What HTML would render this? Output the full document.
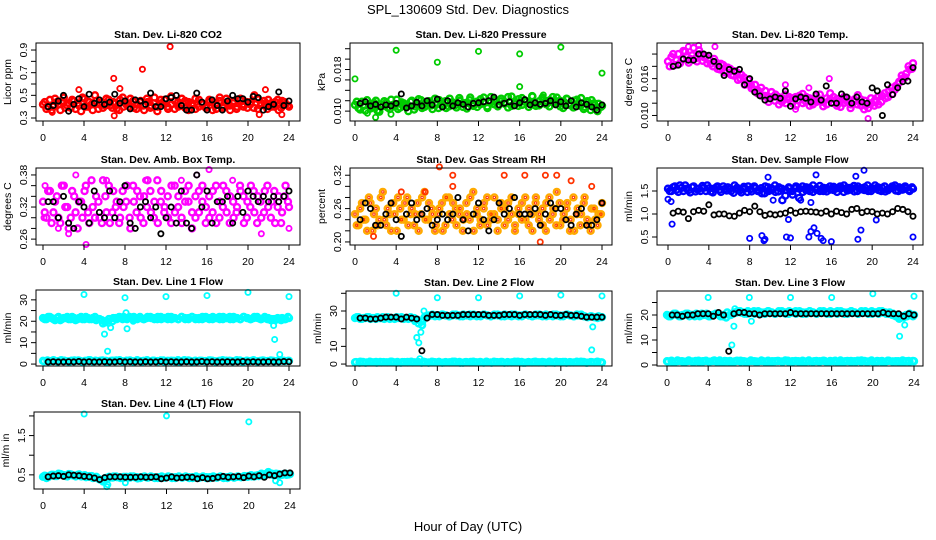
<!DOCTYPE html>
<html><head><meta charset="utf-8">
<style>
html,body{margin:0;padding:0;background:#fff;}
svg{display:block;font-family:"Liberation Sans",Arial,sans-serif;}
</style></head>
<body>
<svg id="chart" width="936" height="540" viewBox="0 0 936 540" xmlns="http://www.w3.org/2000/svg">
<rect x="0" y="0" width="936" height="540" fill="#fff"/>
<text x="468" y="14" text-anchor="middle" font-size="13">SPL_130609  Std. Dev. Diagnostics</text>
<text x="468" y="531" text-anchor="middle" font-size="13">Hour of Day (UTC)</text>
</svg>
<script>
// ---- data ----
const xTicks = [0,4,8,12,16,20,24];

const co2Red = [0.42,0.38,0.46,0.40,0.44,0.37,0.48,0.41,0.39,0.45,0.43,0.36,0.47,0.40,0.42,0.50,0.38,0.44,0.41,0.46,0.39,0.43,0.37,0.48,0.42,0.40,0.45,0.38,0.44,0.41,0.47,0.39,0.43,0.36,0.46,0.42,0.40,0.49,0.38,0.44,0.41,0.45,0.37,0.43,0.47,0.40,0.42,0.39,0.46,0.44,0.38,0.48,0.41,0.43,0.37,0.45,0.40,0.47,0.42,0.39,0.44,0.50,0.38,0.43,0.41,0.46,0.40,0.44,0.37,0.45,0.42,0.40];
const co2Red2 = [0.44,0.40,0.37,0.47,0.42,0.45,0.39,0.43,0.46,0.38,0.41,0.48,0.40,0.44,0.37,0.45,0.42,0.39,0.47,0.41,0.44,0.38,0.46,0.40,0.43,0.47,0.39,0.42,0.45,0.37,0.44,0.41,0.48,0.40,0.43,0.46,0.38,0.42,0.45,0.40,0.47,0.39,0.44,0.41,0.38,0.46,0.43,0.40,0.44,0.37,0.42,0.45,0.39,0.47,0.41,0.43,0.38,0.46,0.40,0.44,0.42,0.39,0.47,0.41,0.45,0.38,0.43,0.40,0.46,0.39,0.44,0.41];
const co2Out = [[6.9,0.65],[6.95,0.32],[7.5,0.56],[9.7,0.73],[12.4,0.93],[3.5,0.55],[21.7,0.55],[23.3,0.33],[21.1,0.33],[0.9,0.35]];
const co2Blk = [0.40,0.41,0.45,0.50,0.36,0.42,0.47,0.40,0.51,0.43,0.46,0.42,0.44,0.51,0.43,0.45,0.38,0.46,0.45,0.42,0.52,0.40,0.40,0.47,0.48,0.50,0.41,0.37,0.37,0.52,0.44,0.37,0.46,0.41,0.37,0.45,0.50,0.47,0.47,0.44,0.49,0.48,0.37,0.40,0.42,0.53,0.41,0.45];

const presGreen = [0.0112,0.0106,0.0118,0.0101,0.0114,0.0108,0.0120,0.0099,0.0110,0.0116,0.0104,0.0112,0.0122,0.0107,0.0115,0.0110,0.0118,0.0103,0.0113,0.0121,0.0108,0.0116,0.0111,0.0124,0.0106,0.0114,0.0119,0.0109,0.0117,0.0112,0.0125,0.0108,0.0116,0.0121,0.0110,0.0118,0.0113,0.0126,0.0109,0.0117,0.0122,0.0111,0.0119,0.0114,0.0127,0.0110,0.0118,0.0123,0.0112,0.0120,0.0115,0.0128,0.0110,0.0119,0.0124,0.0113,0.0121,0.0116,0.0126,0.0109,0.0118,0.0123,0.0111,0.0120,0.0114,0.0125,0.0108,0.0117,0.0121,0.0106,0.0114,0.0110];
const presGreen2 = [0.0118,0.0103,0.0110,0.0121,0.0105,0.0116,0.0101,0.0113,0.0119,0.0107,0.0122,0.0109,0.0104,0.0117,0.0112,0.0100,0.0120,0.0109,0.0123,0.0106,0.0115,0.0119,0.0104,0.0112,0.0121,0.0110,0.0106,0.0124,0.0113,0.0107,0.0120,0.0115,0.0105,0.0126,0.0112,0.0108,0.0123,0.0116,0.0106,0.0127,0.0113,0.0109,0.0124,0.0117,0.0107,0.0128,0.0114,0.0110,0.0125,0.0118,0.0108,0.0129,0.0115,0.0111,0.0126,0.0119,0.0109,0.0127,0.0114,0.0120,0.0106,0.0124,0.0112,0.0107,0.0122,0.0110,0.0104,0.0119,0.0102,0.0115,0.0100,0.0108];
const presOut = [[0,0.0162],[4,0.0217],[8,0.0194],[12,0.0215],[16,0.0210],[20,0.0223],[24,0.0173],[16,0.0147],[2,0.0088],[18.3,0.0131],[1.2,0.0096],[3.5,0.0094]];
const presBlk = [0.0115,0.0118,0.0110,0.0113,0.0108,0.0112,0.0110,0.0115,0.0133,0.0106,0.0110,0.0117,0.0110,0.0120,0.0112,0.0123,0.0108,0.0120,0.0110,0.0116,0.0113,0.0108,0.0115,0.0116,0.0118,0.0120,0.0127,0.0112,0.0115,0.0118,0.0110,0.0116,0.0122,0.0112,0.0116,0.0113,0.0115,0.0120,0.0112,0.0118,0.0110,0.0120,0.0108,0.0116,0.0113,0.0108,0.0102,0.0112];

const tempMag = [0.0188,0.0195,0.0182,0.0200,0.0192,0.0204,0.0186,0.0198,0.0193,0.0206,0.0189,0.0197,0.0190,0.0180,0.0186,0.0175,0.0182,0.0170,0.0176,0.0165,0.0170,0.0160,0.0162,0.0152,0.0150,0.0142,0.0136,0.0145,0.0132,0.0128,0.0138,0.0124,0.0130,0.0122,0.0134,0.0126,0.0120,0.0130,0.0125,0.0135,0.0122,0.0128,0.0118,0.0132,0.0124,0.0115,0.0128,0.0136,0.0120,0.0127,0.0114,0.0130,0.0122,0.0118,0.0126,0.0133,0.0116,0.0124,0.0112,0.0120,0.0125,0.0118,0.0132,0.0128,0.0140,0.0135,0.0148,0.0155,0.0160,0.0168,0.0175,0.0185];
const tempMag2 = [0.0180,0.0200,0.0190,0.0185,0.0205,0.0196,0.0192,0.0210,0.0188,0.0200,0.0195,0.0185,0.0184,0.0192,0.0176,0.0184,0.0170,0.0178,0.0166,0.0172,0.0158,0.0166,0.0150,0.0158,0.0144,0.0150,0.0140,0.0132,0.0140,0.0122,0.0130,0.0134,0.0118,0.0128,0.0120,0.0130,0.0128,0.0116,0.0132,0.0120,0.0130,0.0116,0.0126,0.0122,0.0134,0.0122,0.0118,0.0126,0.0130,0.0116,0.0124,0.0120,0.0128,0.0112,0.0122,0.0118,0.0126,0.0110,0.0118,0.0128,0.0116,0.0130,0.0122,0.0136,0.0130,0.0145,0.0142,0.0152,0.0165,0.0162,0.0180,0.0176];
const tempOut = [[19.6,0.0095],[11.5,0.0150],[13.8,0.0145],[15.8,0.0160],[4.6,0.0212],[2.0,0.0212],[12.5,0.0110],[3.0,0.0214]];
const tempBlk = [0.0180,0.0182,0.0192,0.0190,0.0190,0.0200,0.0200,0.0198,0.0188,0.0180,0.0165,0.0175,0.0172,0.0175,0.0150,0.0160,0.0138,0.0132,0.0125,0.0127,0.0130,0.0128,0.0140,0.0115,0.0127,0.0130,0.0128,0.0122,0.0135,0.0125,0.0148,0.0120,0.0120,0.0135,0.0130,0.0120,0.0130,0.0122,0.0120,0.0145,0.0140,0.0100,0.0150,0.0134,0.0145,0.0155,0.0156,0.0178];

const ambMag = [0.33,0.30,0.35,0.31,0.34,0.29,0.36,0.32,0.30,0.34,0.28,0.33,0.35,0.31,0.37,0.30,0.33,0.29,0.34,0.36,0.31,0.32,0.29,0.35,0.33,0.30,0.36,0.31,0.34,0.29,0.32,0.35,0.30,0.37,0.33,0.31,0.34,0.29,0.36,0.32,0.30,0.35,0.33,0.28,0.34,0.31,0.36,0.32,0.30,0.35,0.29,0.33,0.36,0.31,0.34,0.30,0.32,0.35,0.29,0.33,0.36,0.31,0.34,0.30,0.35,0.32,0.33,0.29,0.34,0.31,0.36,0.32];
const ambMag2 = [0.31,0.35,0.29,0.33,0.30,0.36,0.32,0.28,0.35,0.31,0.33,0.30,0.36,0.29,0.32,0.34,0.30,0.37,0.31,0.29,0.35,0.33,0.30,0.32,0.36,0.28,0.33,0.35,0.30,0.34,0.37,0.31,0.33,0.29,0.35,0.32,0.30,0.36,0.31,0.34,0.29,0.33,0.36,0.31,0.30,0.35,0.33,0.29,0.34,0.31,0.36,0.30,0.32,0.35,0.29,0.33,0.31,0.36,0.34,0.30,0.32,0.35,0.29,0.33,0.31,0.36,0.30,0.35,0.32,0.29,0.34,0.33];
const ambOut = [[0.2,0.36],[2.5,0.27],[4.2,0.25],[15,0.38],[16.2,0.39],[10,0.37],[21.3,0.27],[24,0.28],[1.5,0.28],[13.5,0.37],[6.2,0.37],[0.1,0.30],[3.2,0.38],[18.5,0.37]];
const ambBlk = [0.33,0.33,0.30,0.34,0.29,0.28,0.33,0.32,0.29,0.35,0.31,0.30,0.35,0.30,0.33,0.36,0.29,0.28,0.32,0.33,0.30,0.32,0.27,0.30,0.32,0.29,0.35,0.29,0.28,0.38,0.32,0.35,0.29,0.33,0.33,0.34,0.29,0.34,0.31,0.35,0.34,0.33,0.34,0.33,0.34,0.33,0.34,0.35];

const rhOrange = [0.25,0.23,0.27,0.24,0.28,0.22,0.26,0.24,0.29,0.23,0.25,0.27,0.22,0.26,0.24,0.28,0.25,0.23,0.27,0.25,0.29,0.24,0.26,0.22,0.25,0.27,0.23,0.28,0.24,0.26,0.25,0.22,0.27,0.24,0.29,0.25,0.23,0.26,0.28,0.24,0.25,0.22,0.27,0.26,0.24,0.28,0.23,0.25,0.27,0.24,0.26,0.22,0.28,0.25,0.23,0.27,0.24,0.26,0.29,0.23,0.25,0.27,0.24,0.22,0.26,0.25,0.28,0.23,0.26,0.24,0.25,0.27];
const rhOrange2 = [0.23,0.26,0.24,0.22,0.27,0.25,0.23,0.28,0.24,0.26,0.22,0.25,0.28,0.24,0.27,0.23,0.26,0.25,0.22,0.28,0.24,0.27,0.25,0.23,0.26,0.22,0.28,0.25,0.27,0.23,0.26,0.24,0.25,0.28,0.22,0.26,0.24,0.27,0.23,0.25,0.28,0.24,0.26,0.23,0.27,0.25,0.22,0.26,0.24,0.28,0.23,0.25,0.27,0.24,0.26,0.22,0.28,0.25,0.23,0.27,0.24,0.26,0.22,0.28,0.25,0.23,0.27,0.24,0.22,0.26,0.23,0.25];
const rhOut = [[8.2,0.335],[9.5,0.32],[9.5,0.30],[14.5,0.32],[16.5,0.32],[18.5,0.32],[19.6,0.32],[21,0.31],[23,0.30],[18,0.20],[4.5,0.29],[1.8,0.21],[6.8,0.29]];
const rhBlk = [0.24,0.27,0.26,0.23,0.23,0.25,0.27,0.24,0.21,0.25,0.27,0.24,0.25,0.26,0.23,0.24,0.25,0.24,0.25,0.28,0.24,0.22,0.25,0.27,0.24,0.22,0.24,0.27,0.25,0.26,0.28,0.25,0.25,0.25,0.26,0.23,0.25,0.27,0.26,0.26,0.24,0.23,0.25,0.26,0.23,0.23,0.24,0.27];

const flowBlue = [1.55,1.50,1.60,1.48,1.57,1.62,1.52,1.58,1.49,1.55,1.61,1.50,1.56,1.47,1.58,1.53,1.60,1.51,1.55,1.46,1.57,1.52,1.59,1.48,1.54,1.60,1.50,1.56,1.45,1.58,1.52,1.62,1.49,1.55,1.40,1.58,1.50,1.56,1.35,1.60,1.52,1.57,1.48,1.55,1.61,1.50,1.56,1.53,1.59,1.48,1.55,1.62,1.51,1.57,1.49,1.60,1.54,1.58,1.50,1.56,1.62,1.52,1.57,1.49,1.55,1.60,1.51,1.58,1.53,1.56,1.50,1.55];
const flowBlue2 = [1.50,1.58,1.53,1.62,1.50,1.55,1.47,1.60,1.54,1.50,1.57,1.62,1.49,1.55,1.60,1.48,1.54,1.58,1.50,1.62,1.53,1.47,1.55,1.60,1.49,1.56,1.52,1.45,1.60,1.50,1.55,1.48,1.58,1.30,1.52,1.56,1.42,1.60,1.55,1.48,1.58,1.50,1.62,1.53,1.50,1.57,1.49,1.60,1.52,1.56,1.60,1.48,1.57,1.53,1.61,1.50,1.56,1.52,1.62,1.50,1.55,1.58,1.50,1.60,1.52,1.57,1.62,1.50,1.55,1.60,1.52,1.58];
const flowOut = [[0,1.32],[0.3,1.27],[0.4,0.78],[8,0.47],[9.2,0.53],[9.4,0.42],[9.5,0.45],[11.6,0.50],[12,0.48],[13.8,0.5],[14,0.62],[14.3,0.7],[14.6,0.58],[15,0.47],[15.2,0.42],[16,0.4],[18.6,0.45],[18.9,0.65],[24,0.5],[19.2,1.95],[18.4,1.82],[14.5,1.85],[9.8,1.8],[14,1.25],[20.4,0.87],[11.8,0.88],[10.3,1.3],[13,1.3]];
const flowBlk = [1.02,1.06,1.04,0.90,1.05,1.08,1.06,1.20,0.98,1.00,1.00,0.96,0.95,1.02,1.08,1.05,1.17,1.05,0.97,1.00,0.98,1.00,1.02,1.08,1.02,1.05,1.06,1.05,1.04,1.02,1.06,1.00,1.06,1.03,1.00,1.10,1.12,1.03,1.06,1.05,1.00,1.02,1.00,1.05,1.12,1.10,1.05,0.95];

const l1Up = [21.5,21,22,21,21.5,20.5,21.5,22,21,21.5,21,22,21,21.5,21,22,21,20.5,19.5,21,20,21.5,22,21,21.5,22,21,21.5,22,21,21.5,22,21.5,21,22,21.5,21,22,21.5,21,22,21.5,21,22,21.5,21,22,21.5,21,22,21.5,21,22,21.5,21,22,21.5,21,22,21.5,21,22,21.5,21,22,21.5,21,20.5,21,21.5,21,21.5];
const l1Up2 = [21,22,21.5,20.5,22,21,21.5,21,22,20.5,21.5,21,22,21,21.5,20.5,21,19,20,21,21.5,21,21.5,22,21,21.5,22,21,21.5,21,22,21.5,21,22,21,21.5,22,21,21.5,21,22,21,21.5,22,21,21.5,21,22,21.5,21,21.5,22,21,21.5,22,21,21.5,21,22,21.5,21,21.5,22,21,21.5,21,20.5,21,21.5,20.5,21,22];
const l1Low = [1.5,1.2,1.8,1.4,1.6,1.1,1.7,1.5,1.3,1.8,1.4,1.6,1.2,1.5,1.7,1.3,1.6,1.4,1.8,1.2,1.5,1.6,1.3,1.7,1.4,1.5,1.2,1.8,1.5,1.3,1.6,1.4,1.7,1.2,1.5,1.6,1.4,1.8,1.3,1.5,1.6,1.2,1.7,1.4,1.5,1.3,1.6,1.5];
const l1Low2 = [1.3,1.7,1.4,1.6,1.2,1.8,1.5,1.3,1.6,1.4,1.7,1.2,1.5,1.8,1.3,1.6,1.4,1.7,1.5,1.2,1.6,1.4,1.8,1.3,1.5,1.7,1.2,1.6,1.4,1.5,1.8,1.3,1.6,1.4,1.7,1.2,1.5,1.6,1.3,1.8,1.4,1.5,1.7,1.2,1.6,1.4,1.5,1.3,1.7,1.6,1.2,1.5,1.8,1.4,1.6,1.3,1.5,1.7,1.2,1.6,1.4,1.8,1.3,1.5,1.6,1.4,1.7,1.3,1.5,1.6,1.4,1.5];
const l1Out = [[4,32.5],[8,31],[12,31.5],[16,32],[20,33.5],[24,31.5],[6,14],[6.3,6],[6.4,19],[6.6,17],[8.1,24],[8.2,16.5],[22.5,18],[22.6,11.5],[23.1,4.5],[8.8,20]];
const l1Blk = [1.0,1.1,1.0,1.0,1.1,1.0,1.2,1.0,1.1,1.0,1.0,1.1,1.0,1.0,1.2,1.0,1.1,1.0,1.0,1.1,1.0,1.0,1.2,1.0,1.1,1.0,1.0,1.1,1.0,1.0,1.2,1.0,1.1,1.0,1.0,1.1,1.0,1.0,1.2,1.0,1.1,1.0,1.0,1.1,1.0,1.0,1.2,1.1];

const l2Up = [26,26.5,25.5,26,26.5,26,25.5,26,26.5,26,25.5,26,26.5,26,25.5,26,26.5,26,25,24,26.5,27,27.5,27,27.5,28,27.5,27,27.5,28,27.5,27,27.5,28,27.5,27,27.5,28,27.5,27,27.5,28,27.5,27,27.5,28,27.5,27,27.5,28,27.5,27,27.5,28,27.5,27,27.5,28,27.5,27,27.5,28,27.5,27,27.5,28,27,26.5,27,26.5,27,26.5];
const l2Up2 = [26.5,25.5,26,26.5,25.5,26,26.5,26,25.5,26.5,26,25.5,26,26.5,26,25.5,26,25,23,22,27,27.5,28,27.5,27,28,27.5,27,28,27.5,27,28,27.5,27,28,27.5,27,28,27.5,27,28,27.5,27,28,27.5,27,28,27.5,27,28,27.5,27,28,27.5,27,28,27.5,27,28,27.5,27,28,27.5,27,28,27.5,27,26.5,27,26.5,26,26.5];
const l2Low = [1,1.3,0.8,1.1,1.2,0.9,1.0,1.3,0.8,1.1,1.2,0.9,1.0,1.3,0.8,1.1,1.2,0.9,1.0,1.3,0.8,1.1,1.2,0.9,1.0,1.3,0.8,1.1,1.2,0.9,1.0,1.3,0.8,1.1,1.2,0.9,1.0,1.3,0.8,1.1,1.2,0.9,1.0,1.3,0.8,1.1,1.2,0.9];
const l2Low2 = [1.1,0.8,1.2,0.9,1.3,1.0,0.8,1.2,1.1,0.9,1.3,1.0,1.2,0.8,1.1,0.9,1.3,1.0,1.2,0.8,1.1,0.9,1.3,1.0,1.2,0.8,1.1,0.9,1.3,1.0,1.2,0.8,1.1,0.9,1.3,1.0,1.2,0.8,1.1,0.9,1.3,1.0,1.2,0.8,1.1,0.9,1.3,1.0,1.2,0.8,1.1,0.9,1.3,1.0,1.2,0.8,1.1,0.9,1.3,1.0,1.2,0.8,1.1,0.9,1.3,1.0,1.2,0.8,1.1,0.9,1.3,1.0];
const l2Out = [[4,40],[8,37.5],[12,37.5],[16,38.5],[20,39],[24,38.5],[5.8,24],[6,15],[6.2,12],[6.4,18],[6.5,22],[6.6,24],[6.7,30],[23.1,21],[23,8],[6.3,3]];
const l2Blk = [26,26,25.5,25.5,26,26.5,26.5,26.5,25.5,26.5,26,25.5,7.5,26,28,28,27.5,27.5,27.5,27.5,28,28,28,28,28,27.5,27.5,27.5,28,28,28,27.5,28,28,28,28,27.5,28,27.5,27.5,28,27.5,27.5,27,26.5,26.5,26.5,26.5];

const l3Up = [20,19.5,20.5,20,19.5,20,20.5,20,19.5,20,20.5,20,19.5,20,20.5,20,19.5,19,20,20.5,21,21.5,21,20.5,21,21.5,21,20.5,21,21.5,21,20.5,21,21.5,21,20.5,21,21.5,21,20.5,21,21.5,21,20.5,21,21.5,21,20.5,21,21.5,21,20.5,21,21.5,21,20.5,21,21.5,21,20.5,21,21.5,21,20.5,21,20.5,20,19.5,19,19.5,20,20];
const l3Up2 = [19.5,20,20.5,19.5,20,20.5,19.5,20,20.5,19.5,20,20.5,19.5,20,20.5,19.5,20,21,20,21,21.5,21,20.5,21.5,21,20.5,21.5,21,20.5,21.5,21,20.5,21.5,21,20.5,21.5,21,20.5,21.5,21,20.5,21.5,21,20.5,21.5,21,20.5,21.5,21,20.5,21.5,21,20.5,21.5,21,20.5,21.5,21,20.5,21.5,21,20.5,21.5,21,20.5,20,19.5,18.5,19.5,20,20.5,19.5];
const l3Low = [1.5,1.3,1.8,1.4,1.6,1.2,1.7,1.5,1.3,1.8,1.4,1.6,1.2,1.5,1.7,1.3,1.6,1.4,1.8,1.2,1.5,1.6,1.3,1.7,1.4,1.5,1.2,1.8,1.5,1.3,1.6,1.4,1.7,1.2,1.5,1.6,1.4,1.8,1.3,1.5,1.6,1.2,1.7,1.4,1.5,1.3,1.6,1.5];
const l3Low2 = [1.4,1.7,1.2,1.6,1.5,1.3,1.8,1.4,1.6,1.2,1.5,1.7,1.3,1.6,1.4,1.8,1.2,1.5,1.6,1.3,1.7,1.4,1.5,1.2,1.8,1.5,1.3,1.6,1.4,1.7,1.2,1.5,1.6,1.4,1.8,1.3,1.5,1.6,1.2,1.7,1.4,1.5,1.3,1.6,1.5,1.7,1.2,1.6,1.5,1.3,1.8,1.4,1.6,1.2,1.5,1.7,1.3,1.6,1.4,1.8,1.2,1.5,1.6,1.3,1.7,1.4,1.5,1.2,1.8,1.5,1.3,1.6];
const l3Out = [[4,27],[8,27],[12,27],[16,27],[20,28.5],[24,27.5],[6.3,8],[6.5,15.5],[6.6,22.5],[8.2,17.5],[22.6,11.5],[23.1,16],[22.5,19]];
const l3Blk = [20,20,19.5,20,20,20.5,20.5,20.5,19.5,21,20,5.5,20.5,21,21,20.5,20.5,20,20.5,20.5,20.5,20.5,20.5,21,20.5,20.5,20.5,20.5,20.5,20.5,20.5,20.5,20.5,20.5,20.5,20.5,20.5,20.5,20.5,20.5,20.5,21,20.5,20.5,20.5,19.5,20.5,20];

const l4Cyan = [0.45,0.42,0.48,0.50,0.47,0.52,0.49,0.46,0.51,0.48,0.50,0.46,0.49,0.45,0.47,0.43,0.40,0.36,0.42,0.45,0.43,0.46,0.44,0.42,0.45,0.43,0.46,0.44,0.42,0.45,0.43,0.46,0.44,0.42,0.45,0.43,0.46,0.44,0.42,0.45,0.43,0.46,0.44,0.42,0.45,0.43,0.46,0.44,0.42,0.45,0.43,0.46,0.44,0.42,0.45,0.43,0.46,0.44,0.45,0.47,0.46,0.48,0.47,0.50,0.52,0.55,0.50,0.53,0.49,0.52,0.50,0.52];
const l4Cyan2 = [0.48,0.44,0.50,0.47,0.53,0.50,0.47,0.52,0.49,0.46,0.51,0.48,0.44,0.47,0.42,0.45,0.38,0.33,0.40,0.43,0.46,0.44,0.42,0.45,0.43,0.46,0.44,0.41,0.44,0.46,0.43,0.45,0.42,0.44,0.46,0.43,0.45,0.42,0.44,0.46,0.43,0.45,0.42,0.44,0.46,0.43,0.45,0.42,0.44,0.46,0.43,0.45,0.42,0.44,0.46,0.43,0.45,0.44,0.47,0.45,0.49,0.46,0.49,0.53,0.48,0.57,0.53,0.49,0.52,0.50,0.53,0.51];
const l4Out = [[4,2.05],[12,2.0],[20,1.85],[6.2,0.2],[6.3,0.25],[8,0.3],[23,0.3],[22.6,0.35]];
const l4Blk = [0.45,0.47,0.48,0.46,0.50,0.49,0.48,0.46,0.45,0.42,0.38,0.43,0.45,0.45,0.45,0.44,0.44,0.44,0.45,0.44,0.44,0.45,0.40,0.42,0.45,0.42,0.43,0.44,0.44,0.40,0.43,0.40,0.41,0.44,0.46,0.44,0.45,0.46,0.43,0.47,0.45,0.48,0.44,0.50,0.48,0.52,0.55,0.55];

// ---- layout ----
const panels = [
 {name:'co2',title:'Stan. Dev. Li-820 CO2',ylab:'Licor ppm',box:[36,300,43,121],xt:[43,289],yd:[0.2735,0.962],ticks:[0.3,0.4,0.5,0.6,0.7,0.8,0.9],labels:['0.3','0.5','0.7','0.9'],
  layers:[{v:co2Red,c:'#ff0000',s:0},{v:co2Red2,c:'#ff0000',s:0.17},{out:co2Out,c:'#ff0000'},{v:co2Blk,c:'#000',s:0.5}]},
 {name:'pressure',title:'Stan. Dev. Li-820 Pressure',ylab:'kPa',box:[350,612,43,121],xt:[355,602],yd:[0.0081,0.0231],ticks:[0.010,0.012,0.014,0.016,0.018,0.020,0.022],labels:['0.010','0.018'],
  layers:[{v:presGreen,c:'#00cc00',s:0},{v:presGreen2,c:'#00cc00',s:0.17},{out:presOut,c:'#00cc00'},{v:presBlk,c:'#000',s:0.5}]},
 {name:'li820-temp',title:'Stan. Dev. Li-820 Temp.',ylab:'degrees C',box:[657,923,43,121],xt:[668,913],yd:[0.0091,0.0218],ticks:[0.010,0.012,0.014,0.016,0.018,0.020],labels:['0.010','0.016'],
  layers:[{v:tempMag,c:'#ff00ff',s:0},{v:tempMag2,c:'#ff00ff',s:0.17},{out:tempOut,c:'#ff00ff'},{v:tempBlk,c:'#000',s:0.5}]},
 {name:'amb-box-temp',title:'Stan. Dev. Amb. Box Temp.',ylab:'degrees C',box:[36,300,168,245],xt:[43,289],yd:[0.249,0.393],ticks:[0.26,0.28,0.30,0.32,0.34,0.36,0.38],labels:['0.26','0.32','0.38'],
  layers:[{v:ambMag,c:'#ff00ff',s:0},{v:ambMag2,c:'#ff00ff',s:0.17},{out:ambOut,c:'#ff00ff'},{v:ambBlk,c:'#000',s:0.5}]},
 {name:'gas-stream-rh',title:'Stan. Dev. Gas Stream RH',ylab:'percent',box:[350,612,168,245],xt:[355,602],yd:[0.1945,0.333],ticks:[0.20,0.22,0.24,0.26,0.28,0.30,0.32],labels:['0.20','0.26','0.32'],
  layers:[{v:rhOrange,c:'#ffaa00',s:0,st:'#ff3300'},{v:rhOrange2,c:'#ffaa00',s:0.17,st:'#ff3300'},{out:rhOut,c:'#ffaa00',st:'#ff3300'},{v:rhBlk,c:'#000',s:0.5}]},
 {name:'sample-flow',title:'Stan. Dev. Sample Flow',ylab:'ml/min',box:[657,923,168,245],xt:[668,913],yd:[0.326,2.0],ticks:[0.5,1.0,1.5],labels:['0.5','1.0','1.5'],
  layers:[{v:flowBlue,c:'#0000ff',s:0},{v:flowBlue2,c:'#0000ff',s:0.17},{out:flowOut,c:'#0000ff'},{v:flowBlk,c:'#000',s:0.5}]},
 {name:'line1-flow',title:'Stan. Dev. Line 1 Flow',ylab:'ml/min',box:[36,300,290,366],xt:[43,289],yd:[-0.9,34.6],ticks:[0,5,10,15,20,25,30],labels:['0','10','20','30'],
  layers:[{v:l1Up,c:'#00ffff',s:0},{v:l1Up2,c:'#00ffff',s:0.17},{v:l1Low,c:'#00ffff',s:0},{v:l1Low2,c:'#00ffff',s:0.1},{out:l1Out,c:'#00ffff'},{v:l1Blk,c:'#000',s:0.5}]},
 {name:'line2-flow',title:'Stan. Dev. Line 2 Flow',ylab:'ml/min',box:[346,612,291,366],xt:[355,602],yd:[-1.1,41.3],ticks:[0,10,20,30,40],labels:['0','10','30'],
  layers:[{v:l2Up,c:'#00ffff',s:0},{v:l2Up2,c:'#00ffff',s:0.17},{v:l2Low,c:'#00ffff',s:0},{v:l2Low2,c:'#00ffff',s:0.1},{out:l2Out,c:'#00ffff'},{v:l2Blk,c:'#000',s:0.5}]},
 {name:'line3-flow',title:'Stan. Dev. Line 3 Flow',ylab:'ml/min',box:[657,923,291,366],xt:[667,914],yd:[-0.4,29.6],ticks:[0,5,10,15,20,25],labels:['0','10','20'],
  layers:[{v:l3Up,c:'#00ffff',s:0},{v:l3Up2,c:'#00ffff',s:0.17},{v:l3Low,c:'#00ffff',s:0},{v:l3Low2,c:'#00ffff',s:0.1},{out:l3Out,c:'#00ffff'},{v:l3Blk,c:'#000',s:0.5}]},
 {name:'line4-flow',title:'Stan. Dev. Line 4 (LT) Flow',ylab:'ml/m in',box:[34,300,412,489],xt:[43,290],yd:[0.14,2.1],ticks:[0.5,1.0,1.5,2.0],labels:['0.5','1.5'],
  layers:[{v:l4Cyan,c:'#00ffff',s:0},{v:l4Cyan2,c:'#00ffff',s:0.17},{out:l4Out,c:'#00ffff'},{v:l4Blk,c:'#000',s:0.5}]}
];

const NS='http://www.w3.org/2000/svg';
const svg=document.getElementById('chart');
function mk(tag,attrs,parent){const e=document.createElementNS(NS,tag);for(const k in attrs)e.setAttribute(k,attrs[k]);(parent||svg).appendChild(e);return e;}

panels.forEach(p=>{
  const [bx0,bx1,by0,by1]=p.box;
  const g=mk('g',{});
  
  
  const xs=h=>p.xt[0]+(p.xt[1]-p.xt[0])*h/24;
  const ys=v=>by1-(v-p.yd[0])/(p.yd[1]-p.yd[0])*(by1-by0);
  const t=mk('text',{x:(bx0+bx1)/2,y:by0-5,'text-anchor':'middle','font-size':'10.5','font-weight':'bold'},g);
  t.textContent=p.title;
  
  
  const yl=mk('text',{x:0,y:0,'text-anchor':'middle','font-size':'10.5',transform:`translate(${bx0-25},${(by0+by1)/2}) rotate(-90)`},g);
  yl.textContent=p.ylab;
  
  
  const pg=mk('g',{fill:'none'},g);
  p.layers.forEach(L=>{
    const isBlk=L.c==='#000';
    const r=isBlk?2.6:3;
    const sw=isBlk?1.8:2.4;
    if(L.out){
      L.out.forEach(o=>{
        const c=mk('circle',{cx:xs(o[0]),cy:ys(o[1]),r:2.6,stroke:L.st||L.c,'stroke-width':1.8},pg);
        
        
      });
    } else {
      const n=L.v.length;
      const end=isBlk?24:24-(L.s>0?0.1:0);
      L.v.forEach((v,i)=>{
        const h=L.s+(end-L.s)*i/(n-1);
        const c=mk('circle',{cx:xs(h),cy:ys(v),r:r,stroke:L.c,'stroke-width':sw},pg);
        
        
        if(L.st){
          const c2=mk('circle',{cx:xs(h),cy:ys(v),r:1.2,stroke:L.st,'stroke-width':'1'},pg);
          
          
        }
      });
    }
  });
  const b=mk('rect',{x:bx0,y:by0,width:bx1-bx0,height:by1-by0,fill:'none',stroke:'#000','stroke-width':'1'},g);
  
  
  xTicks.forEach(h=>{
    mk('line',{x1:xs(h),x2:xs(h),y1:by1,y2:by1+5,stroke:'#000'},g);
    const tl=mk('text',{x:xs(h),y:by1+20,'text-anchor':'middle','font-size':'10.5'},g);
    tl.textContent=String(h);
    
    
  });
  p.ticks.forEach(v=>{
    mk('line',{x1:bx0-5,x2:bx0,y1:ys(v),y2:ys(v),stroke:'#000'},g);
  });
  p.labels.forEach(s=>{
    const v=parseFloat(s);
    const tl=mk('text',{x:0,y:0,'text-anchor':'middle','font-size':'10.5',transform:`translate(${bx0-9},${ys(v)}) rotate(-90)`},g);
    tl.textContent=s;
    
    
  });
});
</script>
</body></html>
